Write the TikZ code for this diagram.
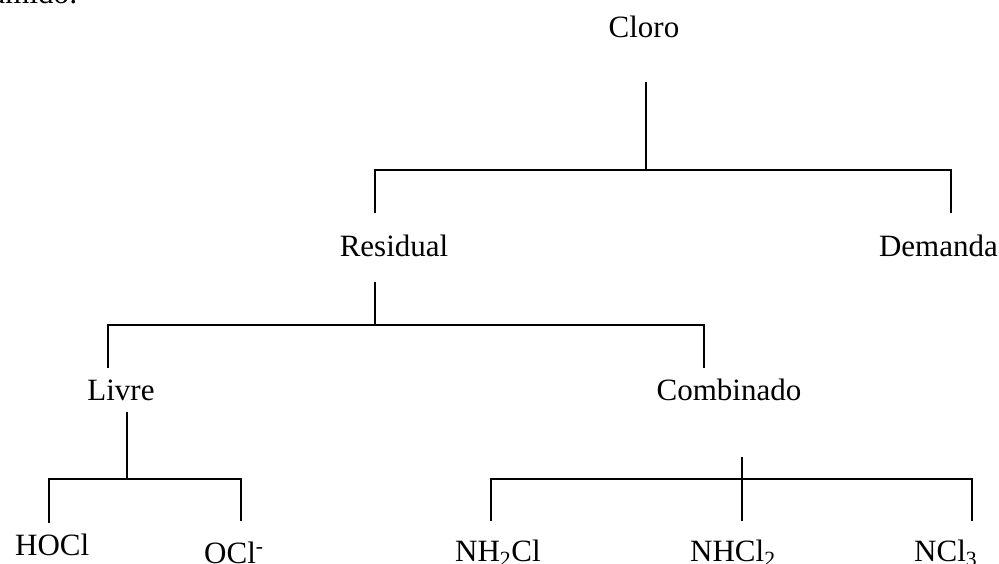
\documentclass[tikz,border=0pt]{standalone}
\usepackage{fontspec}
\setmainfont{Liberation Serif}
\begin{document}
\begin{tikzpicture}[x=1pt,y=-1pt,
  conn/.style={line width=1.8pt, black},
  lbl/.style={inner sep=0pt, font=\fontsize{31}{36}\selectfont}]
\useasboundingbox (0,0) rectangle (999,564);
\begin{scope}
\clip (0,0) rectangle (999,564);
\node[lbl, anchor=base east] (frag) at (78,4) {umido:};
\end{scope}
% labels
\node[lbl, anchor=base] (cloro) at (644,38) {Cloro};
\node[lbl, anchor=base] (residual) at (394,257) {Residual};
\node[lbl, anchor=base east] (demanda) at (998,257) {Demanda};
\node[lbl, anchor=base] (livre) at (121,400) {Livre};
\node[lbl, anchor=base] (combinado) at (729,400) {Combinado};
\node[lbl, anchor=base west] (hocl) at (15,555) {HOCl};
\node[lbl, anchor=base west] (ocl) at (204,563) {OCl\textsuperscript{-}};
\node[lbl, anchor=base west] (nh2cl) at (455,561) {NH\textsubscript{2}Cl};
\node[lbl, anchor=base west] (nhcl2) at (690,561) {NHCl\textsubscript{2}};
\node[lbl, anchor=base west] (ncl3) at (914,561) {NCl\textsubscript{3}};
% junction coordinates
\coordinate (c0) at (646,82);
\coordinate (c1) at (646,170);
\coordinate (c1l) at (375,170);
\coordinate (c1r) at (951,170);
\coordinate (dres) at (375,213);
\coordinate (ddem) at (951,213);
\coordinate (r0) at (375,282);
\coordinate (r1) at (375,325);
\coordinate (r1l) at (108,325);
\coordinate (r1r) at (704,325);
\coordinate (dliv) at (108,368);
\coordinate (dcom) at (704,368);
\coordinate (l0) at (127,412);
\coordinate (l1) at (127,479);
\coordinate (l1l) at (49,479);
\coordinate (l1r) at (241,479);
\coordinate (dhocl) at (49,523);
\coordinate (docl) at (241,521);
\coordinate (k0) at (742,457);
\coordinate (k1) at (742,479);
\coordinate (k1l) at (491,479);
\coordinate (k1r) at (972,479);
\coordinate (dnh2) at (491,521);
\coordinate (dnhc) at (742,521);
\coordinate (dncl) at (972,521);
% connectors
\draw[conn] (c0) -- (c1);
\draw[conn] (dres) -- (c1l) -- (c1r) -- (ddem);
\draw[conn] (r0) -- (r1);
\draw[conn] (dliv) -- (r1l) -- (r1r) -- (dcom);
\draw[conn] (l0) -- (l1);
\draw[conn] (dhocl) -- (l1l) -- (l1r) -- (docl);
\draw[conn] (k0) -- (dnhc);
\draw[conn] (dnh2) -- (k1l) -- (k1r) -- (dncl);
\end{tikzpicture}
\end{document}
